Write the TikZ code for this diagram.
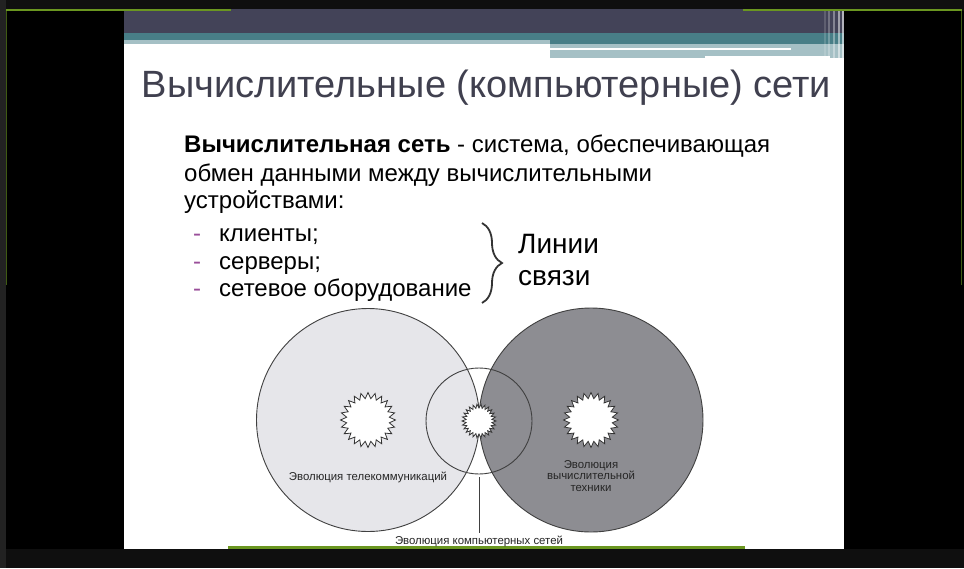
\documentclass[tikz,border=0pt]{standalone}
\usepackage{fontspec}
\setmainfont{Liberation Sans}
\usetikzlibrary{decorations.pathreplacing}

\definecolor{framebg}{HTML}{0F0F0F}
\definecolor{edgegray}{HTML}{222222}
\definecolor{leaf}{HTML}{6A9620}
\definecolor{slate}{HTML}{434358}
\definecolor{bandteal}{HTML}{487E87}
\definecolor{mist}{HTML}{A5C0C5}
\definecolor{titlegray}{HTML}{40404F}
\definecolor{dashpurple}{HTML}{9A4E9A}
\definecolor{lightdisc}{HTML}{E6E6EA}
\definecolor{darkdisc}{HTML}{8D8D92}

% jagged white burst: centre x, centre y, outer radius, inner radius, points
\newcommand{\burst}[5]{%
  \draw[burstline] plot[samples=2*#5+1, domain=0:2*#5, variable=\t]
    ({#1+((#3+#4)/2+(#3-#4)/2*cos(180*\t))*cos(\t*180/#5)},
     {#2+((#3+#4)/2+(#3-#4)/2*cos(180*\t))*sin(\t*180/#5)}) -- cycle;}

\begin{document}
\begin{tikzpicture}[x=1pt,y=-1pt,
  disc/.style={circle, draw=black!75, line width=0.9pt, inner sep=0pt},
  burstline/.style={fill=white, draw=black!80, line width=0.8pt, line join=miter},
  bodytext/.style={anchor=base west, inner sep=0pt, font=\fontsize{24}{28}\selectfont},
  dashmark/.style={anchor=base west, inner sep=0pt, text=dashpurple, font=\fontsize{24}{28}\selectfont},
  caption/.style={font=\fontsize{11.4}{11.3}\selectfont, text=black!85, align=center}]
\useasboundingbox (0,0) rectangle (964,568);

% surrounding frame
\fill[framebg] (0,0) rectangle (964,568);
\fill[edgegray] (0,0) rectangle (6,568);
\fill[black] (6,11) rectangle (964,549);

% slide and its header bands
\fill[white] (124,9) rectangle (844,549);
\fill[slate] (124,9) rectangle (844,33);
\fill[bandteal] (124,33) rectangle (844,44);
\fill[mist] (124,40) rectangle (550,44);
\fill[mist] (550,44) rectangle (844,58);
\fill[white] (550,48) rectangle (791,50);
\fill[white] (705,55.5) rectangle (830,58);
\foreach \x/\o in {824/0.15, 828/0.25, 833/0.35, 838/0.5, 842/0.6}
  \fill[white, opacity=\o] (\x,11) rectangle +(1.5,47);

% green rules
\fill[leaf] (6,9) rectangle (231,11);
\fill[leaf] (743,9) rectangle (962,11);
\draw[leaf!60!black, line width=1pt] (6.5,11) -- (6.5,285);
\draw[leaf!60!black, line width=1pt] (961.5,11) -- (961.5,285);
\fill[leaf] (228,546) rectangle (745,549);

% title
\node[anchor=base, inner sep=0pt, text=titlegray, font=\fontsize{38}{42}\selectfont]
  (title) at (486.5,97) {Вычислительные (компьютерные) сети};

% definition
\node[bodytext] (def1) at (184,152) {\textbf{Вычислительная сеть} - система, обеспечивающая};
\node[bodytext] (def2) at (184,181) {обмен данными между вычислительными};
\node[bodytext] (def3) at (184,208) {устройствами:};

% list
\node[dashmark] (d1) at (193,241) {-};
\node[dashmark] (d2) at (193,269) {-};
\node[dashmark] (d3) at (193,296) {-};
\node[bodytext] (i1) at (219,241) {клиенты;};
\node[bodytext] (i2) at (219,269) {серверы;};
\node[bodytext] (i3) at (219,296) {сетевое оборудование};

% brace and its label
\draw[decorate, decoration={brace, amplitude=20pt}, line width=1.8pt, draw=black!80]
  (482,223) -- (482,303);
\node[anchor=base west, inner sep=0pt, font=\fontsize{28}{32}\selectfont] (lines1) at (518,253) {Линии};
\node[anchor=base west, inner sep=0pt, font=\fontsize{28}{32}\selectfont] (lines2) at (518,285) {связи};

% three overlapping fields
\node[disc, fill=lightdisc, minimum size=223pt] (tele) at (368,420) {};
\node[disc, fill=darkdisc, minimum size=224pt] (comp) at (591,420) {};
\node[disc, minimum size=106pt] (net) at (479,421) {};

\burst{368}{420}{27.5}{21.5}{24}
\burst{591}{420}{27.5}{21.5}{24}
\burst{479}{421}{17}{13}{26}

% captions
\node[caption] (telecap) at (368,477) {Эволюция телекоммуникаций};
\node[caption] (compcap) at (591,476) {Эволюция\\вычислительной\\техники};
\node[caption] (netcap) at (479,541) {Эволюция компьютерных сетей};
\draw[black!75, line width=0.7pt] ([yshift=-3pt]net.south) -- ([yshift=-1pt]netcap.north);
\end{tikzpicture}
\end{document}
